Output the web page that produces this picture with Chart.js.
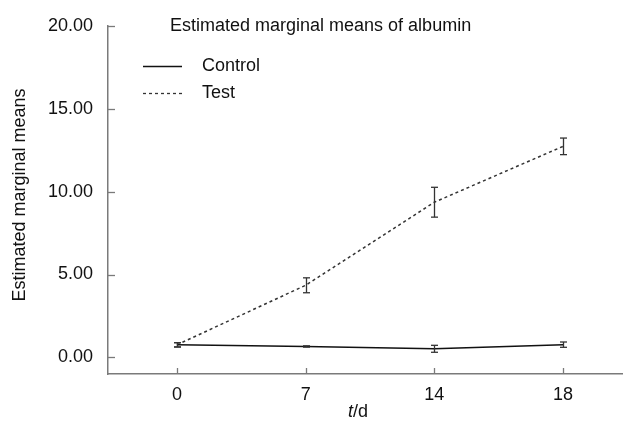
<!DOCTYPE html>
<html>
<head>
<meta charset="utf-8">
<script src="https://cdn.jsdelivr.net/npm/chart.js@4.4.1/dist/chart.umd.min.js"></script>
<style>
  html, body { margin: 0; padding: 0; background: #fff; }
</style>
</head>
<body>
<canvas id="chart" width="623" height="430"></canvas>
<script>
// ── Data ───────────────────────────────────────────────────
const DAYS        = ['0', '7', '14', '18'];
const CONTROL     = [0.76, 0.66, 0.52, 0.77];
const CONTROL_ERR = [0.13, 0.04, 0.21, 0.16];
const TEST        = [0.76, 4.35, 9.36, 12.73];
const TEST_ERR    = [0.13, 0.45, 0.90, 0.50];
const Y_TICKS     = [0, 5, 10, 15, 20];

// ── Style ──────────────────────────────────────────────────
const FONT       = "'Liberation Sans', Arial, sans-serif";
const AXIS_COLOR = '#7a7a7a';
const TEXT_COLOR = '#111';

const pts = arr => arr.map((v, i) => ({ x: i, y: v }));

function line(ctx, x1, y1, x2, y2) {
    ctx.beginPath();
    ctx.moveTo(x1, y1);
    ctx.lineTo(x2, y2);
    ctx.stroke();
}

// ── Plugin: inward ticks, error bars, title, legend, x title ──
const decor = {
    id: 'decor',
    afterDatasetsDraw(chart) {
        const { ctx, scales: { x, y } } = chart;
        ctx.save();

        // error bars
        chart.data.datasets.forEach(ds => {
            ds.data.forEach((p, i) => {
                const e  = ds.errors[i];
                const px = Math.round(x.getPixelForValue(p.x)) + 0.5;
                const y1 = y.getPixelForValue(p.y + e);
                const y2 = y.getPixelForValue(p.y - e);
                ctx.strokeStyle = '#333';
                ctx.lineWidth = 1.3;
                line(ctx, px, y1, px, y2);
                line(ctx, px - 3.5, y1, px + 3.5, y1);
                line(ctx, px - 3.5, y2, px + 3.5, y2);
            });
        });

        // inward tick marks
        ctx.strokeStyle = AXIS_COLOR;
        ctx.lineWidth = 1.3;
        Y_TICKS.forEach(v => {
            const py = Math.round(y.getPixelForValue(v)) + 0.5;
            line(ctx, x.left, py, x.left + 7, py);
        });
        DAYS.forEach((d, i) => {
            const px = Math.round(x.getPixelForValue(i)) + 0.5;
            line(ctx, px, y.bottom, px, y.bottom - 6);
        });

        ctx.fillStyle = TEXT_COLOR;
        ctx.textBaseline = 'middle';
        ctx.font = `18px ${FONT}`;

        // title
        ctx.textAlign = 'left';
        ctx.fillText('Estimated marginal means of albumin', 170, 26);

        // legend
        chart.data.datasets.forEach((ds, i) => {
            const ly = 66 + i * 27 + 0.5;
            ctx.strokeStyle = ds.borderColor;
            ctx.lineWidth = 1.3;
            ctx.setLineDash(ds.borderDash || []);
            line(ctx, 143, ly, 182, ly);
            ctx.setLineDash([]);
            ctx.fillText(ds.label, 202, ly);
        });

        // x title: italic t + "/d"
        const tx = 348;
        const ty = 412;
        ctx.font = `italic 18px ${FONT}`;
        ctx.fillText('t', tx, ty);
        const tw = ctx.measureText('t').width;
        ctx.font = `18px ${FONT}`;
        ctx.fillText('/d', tx + tw, ty);

        // y title
        ctx.translate(20, 195);
        ctx.rotate(-Math.PI / 2);
        ctx.textAlign = 'center';
        ctx.fillText('Estimated marginal means', 0, 0);

        ctx.restore();
    },
};

new Chart(document.getElementById('chart').getContext('2d'), {
    type: 'line',
    data: {
        datasets: [
            {
                label: 'Control',
                data: pts(CONTROL),
                errors: CONTROL_ERR,
                borderColor: '#111',
                borderWidth: 1.5,
                pointRadius: 0,
                tension: 0,
            },
            {
                label: 'Test',
                data: pts(TEST),
                errors: TEST_ERR,
                borderColor: '#333',
                borderWidth: 1.5,
                borderDash: [3, 3],
                pointRadius: 0,
                tension: 0,
            },
        ],
    },
    options: {
        responsive: false,
        animation: false,
        events: [],
        layout: { padding: { top: 25, right: 0, left: 0, bottom: 0 } },
        plugins: { legend: { display: false }, tooltip: { enabled: false } },
        scales: {
            x: {
                type: 'linear',
                min: -0.536,
                max: 3.466,
                afterBuildTicks: s => { s.ticks = DAYS.map((d, i) => ({ value: i })); },
                afterFit: s => { s.height = 56; },
                grid: { drawOnChartArea: false, drawTicks: false },
                border: { display: true, color: AXIS_COLOR, width: 1.5 },
                ticks: {
                    padding: 10,
                    color: TEXT_COLOR,
                    font: { family: FONT, size: 18 },
                    callback: v => DAYS[v],
                },
            },
            y: {
                min: -1,
                max: 20,
                afterBuildTicks: s => { s.ticks = Y_TICKS.map(v => ({ value: v })); },
                afterFit: s => { s.width = 108; },
                grid: { drawOnChartArea: false, drawTicks: false },
                border: { display: true, color: AXIS_COLOR, width: 1.5 },
                ticks: {
                    padding: 15,
                    color: TEXT_COLOR,
                    font: { family: FONT, size: 18 },
                    callback: v => v.toFixed(2),
                },
            },
        },
    },
    plugins: [decor],
});
</script>
</body>
</html>
